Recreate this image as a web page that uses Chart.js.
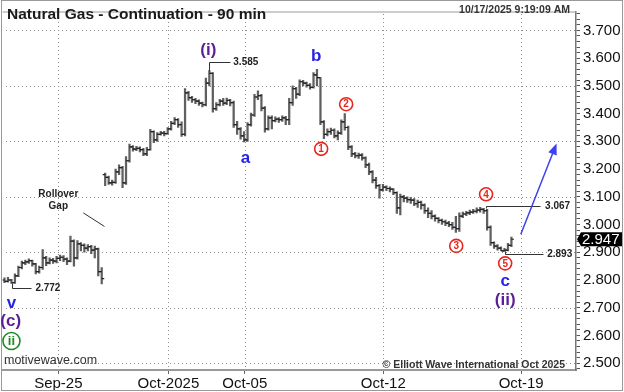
<!DOCTYPE html>
<html>
<head>
<meta charset="utf-8">
<script src="https://cdn.jsdelivr.net/npm/chart.js@4"></script>
<style>
  html, body { margin: 0; padding: 0; background: #fff; }
  canvas { display: block; }
</style>
</head>
<body>
<canvas id="chart" width="624" height="392"></canvas>
<script>
// 90-minute bars (old contract until the rollover, then new contract)
const closes = [
  2.795, 2.800, 2.790, 2.815, 2.845, 2.862, 2.865, 2.870, 2.858, 2.830,
  2.845, 2.880, 2.862, 2.872, 2.868, 2.878, 2.882, 2.875, 2.868, 2.940,
  2.880, 2.930, 2.925, 2.915, 2.920, 2.908, 2.912, 2.830, 2.805,
  3.170, 3.150, 3.152, 3.190, 3.205, 3.150, 3.230, 3.280, 3.272, 3.275, 3.270,
  3.255, 3.270, 3.335, 3.305, 3.325, 3.330, 3.328, 3.345, 3.365, 3.378,
  3.360, 3.325, 3.475, 3.458, 3.450, 3.445, 3.438, 3.432, 3.510, 3.545,
  3.418, 3.432, 3.445, 3.438, 3.448, 3.440, 3.360, 3.345, 3.320, 3.305,
  3.360, 3.395, 3.460, 3.465, 3.420, 3.345, 3.385, 3.375, 3.380, 3.378,
  3.385, 3.378, 3.440, 3.490, 3.470, 3.515, 3.510, 3.502, 3.495, 3.540,
  3.530, 3.370, 3.325, 3.335, 3.340, 3.320, 3.330, 3.370, 3.350, 3.280,
  3.255, 3.248, 3.250, 3.240, 3.215, 3.190, 3.160, 3.140, 3.125, 3.135,
  3.130, 3.128, 3.115, 3.060, 3.100, 3.095, 3.090, 3.088, 3.075, 3.080,
  3.070, 3.050, 3.040, 3.030, 3.022, 3.015, 3.010, 3.005, 3.000, 2.990,
  2.985, 3.030, 3.038, 3.042, 3.045, 3.048, 3.052, 3.055, 3.050, 2.990,
  2.935, 2.922, 2.915, 2.905, 2.908, 2.925, 2.947
];
const highs = [
  2.808, 2.810, 2.802, 2.822, 2.850, 2.868, 2.872, 2.876, 2.872, 2.860,
  2.850, 2.910, 2.885, 2.880, 2.878, 2.885, 2.890, 2.888, 2.880, 2.958,
  2.945, 2.942, 2.935, 2.930, 2.928, 2.925, 2.922, 2.915, 2.845,
  3.186, 3.175, 3.160, 3.200, 3.215, 3.210, 3.245, 3.290, 3.285, 3.282, 3.280,
  3.275, 3.278, 3.343, 3.338, 3.332, 3.336, 3.336, 3.350, 3.372, 3.386,
  3.382, 3.370, 3.490, 3.480, 3.462, 3.455, 3.450, 3.442, 3.528, 3.555,
  3.548, 3.440, 3.452, 3.455, 3.456, 3.452, 3.445, 3.372, 3.350, 3.335,
  3.368, 3.402, 3.470, 3.482, 3.470, 3.425, 3.392, 3.392, 3.388, 3.386,
  3.392, 3.390, 3.455, 3.500, 3.495, 3.522, 3.520, 3.514, 3.508, 3.548,
  3.560, 3.530, 3.375, 3.345, 3.348, 3.345, 3.338, 3.378, 3.400, 3.355,
  3.285, 3.260, 3.258, 3.256, 3.244, 3.222, 3.195, 3.170, 3.145, 3.145,
  3.140, 3.136, 3.130, 3.118, 3.110, 3.105, 3.100, 3.098, 3.094, 3.088,
  3.085, 3.075, 3.060, 3.050, 3.035, 3.025, 3.020, 3.016, 3.012, 3.008,
  3.030, 3.042, 3.045, 3.048, 3.052, 3.055, 3.060, 3.062, 3.058, 3.055,
  2.995, 2.938, 2.928, 2.920, 2.914, 2.932, 2.955
];
const lows = [
  2.790, 2.792, 2.788, 2.788, 2.812, 2.840, 2.855, 2.860, 2.850, 2.822,
  2.825, 2.838, 2.852, 2.858, 2.860, 2.862, 2.870, 2.866, 2.855, 2.865,
  2.850, 2.875, 2.905, 2.900, 2.905, 2.895, 2.880, 2.815, 2.786,
  3.140, 3.145, 3.142, 3.148, 3.180, 3.133, 3.145, 3.225, 3.265, 3.266, 3.262,
  3.248, 3.248, 3.268, 3.295, 3.300, 3.322, 3.320, 3.326, 3.340, 3.360,
  3.350, 3.318, 3.320, 3.448, 3.440, 3.436, 3.430, 3.424, 3.428, 3.500,
  3.405, 3.412, 3.428, 3.430, 3.432, 3.428, 3.350, 3.325, 3.308, 3.298,
  3.300, 3.355, 3.390, 3.450, 3.410, 3.333, 3.340, 3.345, 3.370, 3.368,
  3.372, 3.360, 3.360, 3.430, 3.455, 3.465, 3.500, 3.495, 3.488, 3.492,
  3.500, 3.360, 3.310, 3.320, 3.325, 3.312, 3.305, 3.325, 3.340, 3.270,
  3.245, 3.240, 3.238, 3.232, 3.205, 3.180, 3.150, 3.130, 3.095, 3.120,
  3.122, 3.118, 3.108, 3.040, 3.035, 3.082, 3.080, 3.076, 3.068, 3.062,
  3.055, 3.040, 3.025, 3.020, 3.012, 3.006, 3.000, 2.996, 2.992, 2.982,
  2.972, 2.975, 3.025, 3.032, 3.036, 3.040, 3.042, 3.045, 3.040, 2.980,
  2.925, 2.914, 2.908, 2.906, 2.903, 2.905, 2.920
];
const firstOpen = 2.800;
const rolloverIndex = 29;   // first bar of the new contract
const rolloverOpen = 3.180;

const dateTickIndex = [15.5, 47.2, 69.2, 109.1, 148.8];
const dateTickLabels = ["Sep-25", "Oct-2025", "Oct-05", "Oct-12", "Oct-19"];
const priceTicks = [2.5, 2.6, 2.7, 2.8, 2.9, 3.0, 3.1, 3.2, 3.3, 3.4, 3.5, 3.6, 3.7];
const gridPrices = [2.5, 2.7, 2.9, 3.1, 3.3, 3.5, 3.7];
const lastPrice = 2.947;

const purple = "#5a1e98";
const blue = "#2424e6";
const red = "#e8261e";
const green = "#1f8a24";
const FONT = "'Liberation Sans', Arial, Helvetica, sans-serif";

const opens = closes.map((c, i) => {
  if (i === 0) return firstOpen;
  if (i === rolloverIndex) return rolloverOpen;
  return closes[i - 1];
});
const barIdx = closes.map((c, i) => i);

// wave labels: bar position / price of their centre
const waveLabels = [
  { t: "(i)", i: 58.7, p: 3.630, c: purple, s: 17 },
  { t: "b", i: 89.8, p: 3.606, c: blue, s: 17 },
  { t: "a", i: 69.4, p: 3.238, c: blue, s: 17 },
  { t: "c", i: 144.2, p: 2.794, c: blue, s: 17 },
  { t: "(ii)", i: 144.2, p: 2.727, c: purple, s: 17 },
  { t: "v", i: 2.0, p: 2.717, c: blue, s: 17 },
  { t: "(c)", i: 1.8, p: 2.650, c: purple, s: 17 }
];
const circled = [
  { t: "1", i: 91.2, p: 3.273 },
  { t: "2", i: 98.4, p: 3.434 },
  { t: "3", i: 130.1, p: 2.923 },
  { t: "4", i: 138.7, p: 3.109 },
  { t: "5", i: 144.2, p: 2.860 }
];

// dotted grid drawn as single pixels
function drawGrid(chart) {
  const ctx = chart.ctx;
  const area = chart.chartArea;
  const xs = chart.scales.x, ys = chart.scales.y;
  ctx.save();
  ctx.fillStyle = "#8e8e8e";
  dateTickIndex.forEach(v => {
    const px = Math.round(xs.getPixelForValue(v));
    for (let y = Math.ceil(area.top) + 2; y < area.bottom - 1; y += 4) ctx.fillRect(px, y, 1, 1);
  });
  gridPrices.forEach(p => {
    const py = Math.round(ys.getPixelForValue(p));
    for (let x = Math.ceil(area.left) + 3; x < area.right - 1; x += 4) ctx.fillRect(x, py, 1, 1);
  });
  ctx.restore();
}

const overlay = {
  id: "overlay",
  beforeDraw(chart) {
    const ctx = chart.ctx;
    ctx.save();
    ctx.fillStyle = "#fff";
    ctx.fillRect(0, 0, chart.width, chart.height);
    ctx.restore();
  },
  beforeDatasetsDraw(chart) {
    drawGrid(chart);
  },
  afterDraw(chart) {
    const ctx = chart.ctx;
    const X = v => chart.scales.x.getPixelForValue(v);
    const Y = v => chart.scales.y.getPixelForValue(v);
    const area = chart.chartArea;
    ctx.save();

    // outer frame
    ctx.strokeStyle = "#9a9a9a";
    ctx.lineWidth = 1;
    ctx.strokeRect(1.5, 0.5, 621, 390);
    ctx.beginPath();
    ctx.moveTo(area.left, area.top);
    ctx.lineTo(area.right, area.top);
    ctx.stroke();

    // titles
    ctx.fillStyle = "#1a1a1a";
    ctx.textBaseline = "middle";
    ctx.textAlign = "left";
    ctx.font = "bold 15.5px " + FONT;
    ctx.fillText("Natural Gas - Continuation - 90 min", 7, 15);
    ctx.textAlign = "right";
    ctx.font = "bold 10.5px " + FONT;
    ctx.fillStyle = "#333";
    ctx.fillText("10/17/2025 9:19:09 AM", 570, 10);
    ctx.fillText("\u00A9 Elliott Wave International Oct 2025", 565, 365);
    ctx.textAlign = "left";
    ctx.font = "12.5px " + FONT;
    ctx.fillText("motivewave.com", 4, 361);

    // rollover note
    ctx.textAlign = "center";
    ctx.font = "bold 10px " + FONT;
    ctx.fillStyle = "#222";
    ctx.fillText("Rollover", X(15.5), Y(3.109));
    ctx.fillText("Gap", X(15.5), Y(3.067));
    ctx.strokeStyle = "#333";
    ctx.lineWidth = 1;
    ctx.beginPath();
    ctx.moveTo(X(22.7), Y(3.042));
    ctx.lineTo(X(28.8), Y(2.993));
    ctx.stroke();

    // price callouts
    const callout = (pts, label, lx, ly) => {
      ctx.strokeStyle = "#333";
      ctx.lineWidth = 1;
      ctx.beginPath();
      pts.forEach((pt, k) => {
        const px = Math.round(X(pt[0])) + 0.5, py = Math.round(Y(pt[1])) + 0.5;
        if (k === 0) ctx.moveTo(px, py); else ctx.lineTo(px, py);
      });
      ctx.stroke();
      ctx.fillStyle = "#222";
      ctx.textAlign = "left";
      ctx.font = "bold 10px " + FONT;
      ctx.fillText(label, X(lx), Y(ly));
    };
    callout([[59, 3.555], [59, 3.585], [65.0, 3.585]], "3.585", 65.9, 3.585);
    callout([[2.3, 2.788], [2.3, 2.772], [7.5, 2.772]], "2.772", 8.9, 2.772);
    callout([[138.7, 3.058], [138.7, 3.067], [154.2, 3.067]], "3.067", 155.7, 3.067);
    callout([[144.2, 2.903], [144.2, 2.893], [155.1, 2.893]], "2.893", 156.3, 2.893);

    // wave labels
    ctx.textAlign = "center";
    waveLabels.forEach(w => {
      ctx.font = "bold " + w.s + "px " + FONT;
      ctx.fillStyle = w.c;
      ctx.fillText(w.t, X(w.i), Y(w.p));
    });
    circled.forEach(c => {
      const cx = X(c.i), cy = Y(c.p);
      ctx.beginPath();
      ctx.arc(cx, cy, 6.5, 0, Math.PI * 2);
      ctx.fillStyle = "#fff";
      ctx.fill();
      ctx.strokeStyle = red;
      ctx.lineWidth = 1.6;
      ctx.stroke();
      ctx.fillStyle = red;
      ctx.font = "bold 10px " + FONT;
      ctx.fillText(c.t, cx, cy + 0.5);
    });
    // green circled ii
    {
      const cx = X(2.0), cy = Y(2.580);
      ctx.beginPath();
      ctx.arc(cx, cy, 8.5, 0, Math.PI * 2);
      ctx.strokeStyle = green;
      ctx.lineWidth = 1.6;
      ctx.stroke();
      ctx.fillStyle = green;
      ctx.font = "bold 13px " + FONT;
      ctx.fillText("ii", cx, cy + 0.5);
    }

    // projection arrow
    {
      const x1 = X(148.7), y1 = Y(2.965), x2 = X(159.0), y2 = Y(3.292);
      const ang = Math.atan2(y2 - y1, x2 - x1);
      ctx.strokeStyle = "#4040ee";
      ctx.fillStyle = "#4040ee";
      ctx.lineWidth = 1.5;
      ctx.beginPath();
      ctx.moveTo(x1, y1);
      ctx.lineTo(x2 - 8 * Math.cos(ang), y2 - 8 * Math.sin(ang));
      ctx.stroke();
      ctx.beginPath();
      ctx.moveTo(x2, y2);
      ctx.lineTo(x2 - 11 * Math.cos(ang) + 4.5 * Math.sin(ang), y2 - 11 * Math.sin(ang) - 4.5 * Math.cos(ang));
      ctx.lineTo(x2 - 11 * Math.cos(ang) - 4.5 * Math.sin(ang), y2 - 11 * Math.sin(ang) + 4.5 * Math.cos(ang));
      ctx.closePath();
      ctx.fill();
    }

    // last price tag
    {
      const ty = Y(lastPrice);
      const left = area.right + 1;
      ctx.fillStyle = "#000";
      ctx.beginPath();
      ctx.moveTo(left, ty);
      ctx.lineTo(left + 4, ty - 7);
      ctx.lineTo(622, ty - 7);
      ctx.lineTo(622, ty + 7);
      ctx.lineTo(left + 4, ty + 7);
      ctx.closePath();
      ctx.fill();
      ctx.fillStyle = "#fff";
      ctx.textAlign = "left";
      ctx.font = "15px " + FONT;
      ctx.fillText(lastPrice.toFixed(3), left + 5, ty + 1);
    }
    ctx.restore();
  }
};

const ctx = document.getElementById("chart").getContext("2d");
new Chart(ctx, {
  type: "bar",
  data: {
    datasets: [
      {
        type: "bar",
        data: barIdx.map(i => ({ x: i, y: [lows[i], highs[i]] })),
        backgroundColor: "#606060",
        barThickness: 1.6,
        order: 3
      },
      {
        type: "scatter",
        data: barIdx.map(i => ({ x: i - 0.35, y: opens[i] })),
        pointStyle: "line",
        pointRadius: 1.3,
        pointHoverRadius: 1.3,
        pointBorderColor: "#222",
        pointBorderWidth: 1.2,
        showLine: false,
        order: 1
      },
      {
        type: "scatter",
        data: barIdx.map(i => ({ x: i + 0.35, y: closes[i] })),
        pointStyle: "line",
        pointRadius: 1.3,
        pointHoverRadius: 1.3,
        pointBorderColor: "#222",
        pointBorderWidth: 1.2,
        showLine: false,
        order: 2
      }
    ]
  },
  options: {
    responsive: false,
    animation: false,
    events: [],
    layout: { padding: { left: 2, top: 1, right: 0, bottom: 0 } },
    plugins: {
      legend: { display: false },
      tooltip: { enabled: false }
    },
    scales: {
      x: {
        type: "linear",
        min: -0.576,
        max: 164.6,
        offset: false,
        afterBuildTicks: (axis) => {
          axis.ticks = dateTickIndex.map(v => ({ value: v }));
        },
        afterFit: (axis) => { axis.height = 22; },
        grid: {
          offset: false,
          drawOnChartArea: false,
          drawTicks: true,
          tickLength: 4,
          tickColor: "#666"
        },
        border: { display: true, color: "#999", width: 2 },
        ticks: {
          autoSkip: false,
          maxRotation: 0,
          padding: 1,
          color: "#111",
          font: { family: FONT, size: 15 },
          callback: (v) => {
            const k = dateTickIndex.indexOf(v);
            return k >= 0 ? dateTickLabels[k] : "";
          }
        }
      },
      y: {
        position: "right",
        min: 2.4754,
        max: 3.7665,
        afterBuildTicks: (axis) => {
          const t = [];
          for (let k = 124; k <= 188; k++) t.push({ value: k / 50 });
          axis.ticks = t;
        },
        afterFit: (axis) => { axis.width = 48; },
        grid: {
          drawOnChartArea: false,
          tickLength: 4,
          tickColor: "#555"
        },
        border: { display: true, color: "#777", width: 1.5 },
        ticks: {
          autoSkip: false,
          padding: 3,
          color: "#111",
          font: { family: FONT, size: 15 },
          callback: (v) => priceTicks.some(p => Math.abs(p - v) < 1e-6) ? v.toFixed(3) : ""
        }
      }
    }
  },
  plugins: [overlay]
});
</script>
</body>
</html>
